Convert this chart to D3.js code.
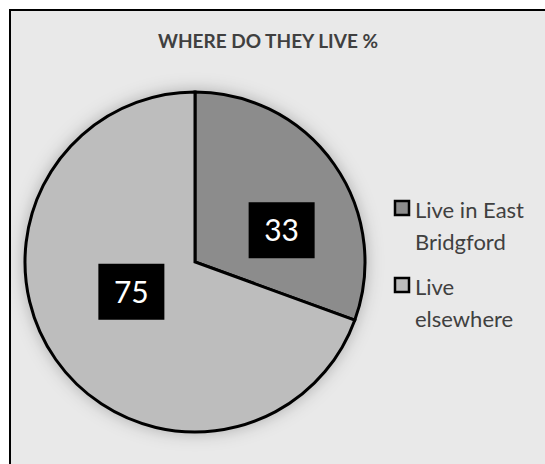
<!DOCTYPE html>
<html lang="en">
<head>
    <title>Where do they live</title>
    <script src="https://d3js.org/d3.v7.min.js"></script>
    <style>
        body { margin: 0; background: #ffffff; }
    </style>
</head>
<body>
    <div id="chart"></div>
    <script>

        // chart data
        const categories = ["Live in East Bridgford", "Live elsewhere"];
        const values = [33, 75];
        const legendLines = [["Live in East", "Bridgford"], ["Live", "elsewhere"]];
        const sliceColors = ["#8c8c8c", "#bdbdbd"];

        const width = 545, height = 464;
        const cx = 195, cy = 262, radius = 170;
        const font = "Lato, 'Open Sans', sans-serif";

        const svg = d3.select("#chart")
            .append("svg")
            .attr("width", width)
            .attr("height", height);

        // soft halo around the pie
        const defs = svg.append("defs");
        const filter = defs.append("filter")
            .attr("id", "halo")
            .attr("x", "-30%").attr("y", "-30%")
            .attr("width", "160%").attr("height", "160%");
        filter.append("feDropShadow")
            .attr("dx", 0).attr("dy", 0)
            .attr("stdDeviation", 9)
            .attr("flood-color", "#000")
            .attr("flood-opacity", 0.3);

        // chart area with frame (runs off the right and bottom edges)
        svg.append("rect")
            .attr("x", 10).attr("y", 10)
            .attr("width", width + 20).attr("height", height + 20)
            .style("fill", "#e9e9e9")
            .style("stroke", "#000")
            .style("stroke-width", 2);

        svg.append("text")
            .attr("x", 268)
            .attr("y", 48)
            .attr("text-anchor", "middle")
            .style("font-family", font)
            .style("font-weight", "bold")
            .style("font-size", "19px")
            .style("fill", "#404040")
            .text("WHERE DO THEY LIVE %");

        const pie = d3.pie().sort(null).value(d => d);
        const arcs = pie(values);
        const arc = d3.arc().innerRadius(0).outerRadius(radius);

        const g = svg.append("g")
            .attr("transform", `translate(${cx},${cy})`);

        g.append("circle")
            .attr("r", radius)
            .style("fill", "#bdbdbd")
            .attr("filter", "url(#halo)");

        g.selectAll("path.slice")
            .data(arcs)
            .enter()
                .append("path")
                .attr("class", "slice")
                .attr("d", arc)
                .style("fill", (d, i) => sliceColors[i])
                .style("stroke", "#000")
                .style("stroke-width", 3)
                .style("stroke-linejoin", "miter");

        // data labels: black boxes with white text (nudged like Excel's best fit)
        const labelArc = d3.arc().innerRadius(radius * 0.5).outerRadius(radius * 0.5);
        const nudge = [[17, 17], [6, -19]];

        const labels = g.selectAll("g.label")
            .data(arcs)
            .enter()
                .append("g")
                .attr("class", "label")
                .attr("transform", (d, i) => {
                    const c = labelArc.centroid(d);
                    return `translate(${c[0] + nudge[i][0]},${c[1] + nudge[i][1]})`;
                });

        labels.append("rect")
            .attr("x", -33).attr("y", -28)
            .attr("width", 66).attr("height", 56)
            .style("fill", "#000");

        labels.append("text")
            .attr("text-anchor", "middle")
            .attr("y", 11)
            .style("font-family", font)
            .style("font-size", "30px")
            .style("fill", "#fff")
            .text(d => d.data);

        // legend
        const legend = svg.append("g")
            .attr("transform", "translate(394,200)");

        const items = legend.selectAll("g.item")
            .data(categories)
            .enter()
                .append("g")
                .attr("class", "item")
                .attr("transform", (d, i) => `translate(0,${i * 77})`);

        items.append("rect")
            .attr("x", 1).attr("y", 1)
            .attr("width", 14).attr("height", 14)
            .style("fill", (d, i) => sliceColors[i])
            .style("stroke", "#000")
            .style("stroke-width", 2.5);

        items.each(function(d, i) {
            const t = d3.select(this).append("text")
                .style("font-family", font)
                .style("font-size", "22px")
                .style("fill", "#404040");
            legendLines[i].forEach((line, j) => {
                t.append("tspan")
                    .attr("x", 21)
                    .attr("y", 18 + j * 32)
                    .text(line);
            });
        });

    </script>
</body>
</html>
